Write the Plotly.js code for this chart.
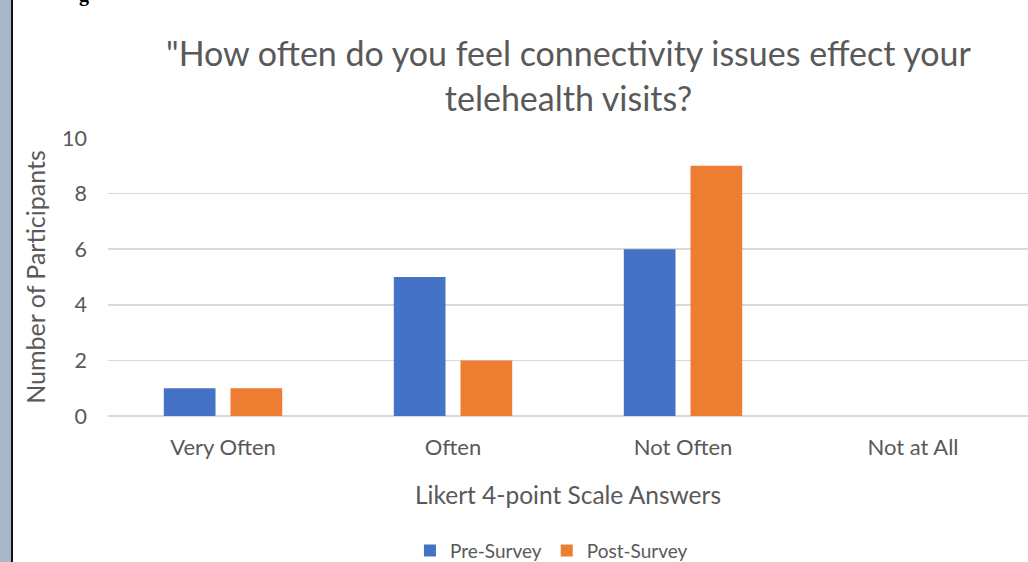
<!DOCTYPE html>
<html>
<head>
<meta charset="utf-8">
<script src="https://cdn.plot.ly/plotly-3.0.1.min.js"></script>
<style>
html,body{margin:0;padding:0;background:#fff;}
#wrap{position:relative;width:1028px;height:562px;overflow:hidden;}
#chart{position:absolute;left:0;top:0;width:1028px;height:562px;}
#strip{position:absolute;left:0;top:0;width:11px;height:562px;background:#a8b7c7;border-right:2px solid #111;}
#g{position:absolute;left:79px;top:-17px;font-family:"Liberation Serif",serif;font-weight:bold;font-size:20px;color:#000;}
</style>
</head>
<body>
<div id="wrap">
<div id="chart"></div>
<div id="strip"></div>
<div id="g">g</div>
</div>
<script>
const categories = ["Very Often", "Often", "Not Often", "Not at All"];
const preSurvey = [1, 5, 6, 0];
const postSurvey = [1, 2, 9, 0];
const yTicks = [0, 2, 4, 6, 8, 10];

const font = "Lato, 'Open Sans', sans-serif";
const data = [
  {type:"bar", name:"Pre-Survey", x:categories, y:preSurvey, marker:{color:"#4472c4"}, hoverinfo:"none"},
  {type:"bar", name:"Post-Survey", x:categories, y:postSurvey, marker:{color:"#ed7d31"}, hoverinfo:"none"}
];
const layout = {
  width:1028, height:562,
  margin:{l:108, r:0, t:138, b:146, autoexpand:false},
  paper_bgcolor:"#fff", plot_bgcolor:"#fff",
  font:{family:font, color:"#595959", size:21},
  title:{text:"\"How often do you feel connectivity issues effect your<br>telehealth visits?", x:0.553, xanchor:"center", yref:"container", y:0.882, yanchor:"top", font:{size:34, color:"#595959", family:font}},
  barmode:"group", bargap:0.42, bargroupgap:0.225,
  showlegend:true,
  legend:{orientation:"h", x:0.482, xanchor:"center", yref:"container", y:0.02, yanchor:"middle", font:{size:19, color:"#595959"}, itemwidth:30, traceorder:"normal"},
  xaxis:{type:"category", tickfont:{size:22}, showline:false, ticks:"", showgrid:false, ticklabelstandoff:16,
         title:{text:"Likert 4-point Scale Answers", font:{size:24.5, color:"#595959"}, standoff:27}},
  yaxis:{range:[0,10], tickvals:yTicks, ticktext:yTicks.map(String), gridcolor:"#d9d9d9", gridwidth:1.5,
         zeroline:true, zerolinecolor:"#d9d9d9", zerolinewidth:2, showline:false, ticks:"", tickfont:{size:21.5},
         ticklabelstandoff:20,
         title:{text:"Number of Participants", font:{size:25, color:"#595959"}, standoff:9}}
};
Plotly.newPlot("chart", data, layout, {displayModeBar:false, staticPlot:true});
</script>
</body>
</html>
